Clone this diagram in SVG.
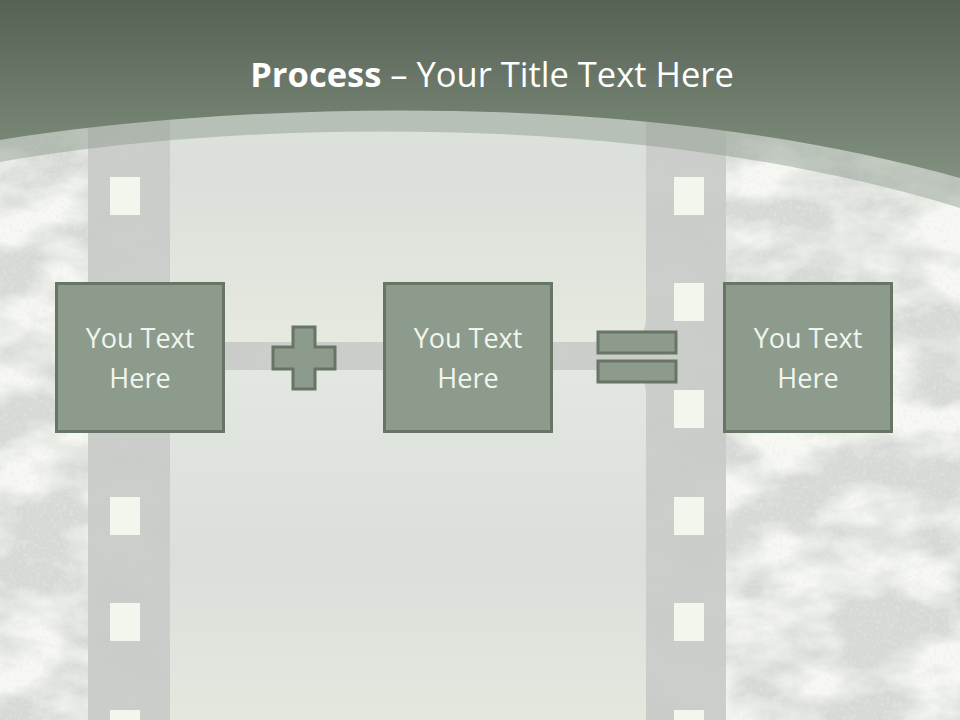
<svg xmlns="http://www.w3.org/2000/svg" width="960" height="720" viewBox="0 0 960 720">
<defs>
<style>
.box{fill:#8d9b8c;stroke:#677565;stroke-width:3}
.lbl{font-family:"Open Sans","Liberation Sans",sans-serif;font-size:27px;fill:#f2f5ee;text-anchor:middle}
.hole{fill:#f3f6ec}
.strip{fill:#c9cbc8}
</style>
<linearGradient id="hdr" x1="0" y1="0" x2="0" y2="1">
<stop offset="0" stop-color="#566254"/>
<stop offset="1" stop-color="#81907f"/>
</linearGradient>
<linearGradient id="frame" x1="0" y1="0" x2="0" y2="1">
<stop offset="0" stop-color="#e3e7e1"/>
<stop offset="0.5" stop-color="#dadfda"/>
<stop offset="1" stop-color="#e6e9df"/>
</linearGradient>
<filter id="grunge" x="0" y="0" width="100%" height="100%">
<feTurbulence type="fractalNoise" baseFrequency="0.012 0.02" numOctaves="6" seed="11" result="n"/>
<feColorMatrix in="n" type="matrix" values="0 0 0 0 0.93  0 0 0 0 0.94  0 0 0 0 0.9  3 0 0 0 -1.1" result="c"/>
<feComposite in="c" in2="SourceGraphic" operator="in"/>
</filter>
<filter id="speck" x="0" y="0" width="100%" height="100%">
<feTurbulence type="fractalNoise" baseFrequency="0.3" numOctaves="2" seed="3" result="n"/>
<feColorMatrix in="n" type="matrix" values="0 0 0 0 0.8  0 0 0 0 0.82  0 0 0 0 0.8  3 0 0 0 -1.5" result="c"/>
<feComposite in="c" in2="SourceGraphic" operator="in"/>
</filter>
</defs>
<!-- background -->
<rect x="0" y="0" width="960" height="720" fill="#d6d9d5"/>
<rect x="0" y="0" width="960" height="720" fill="#fff" filter="url(#grunge)"/>
<rect x="0" y="0" width="960" height="720" fill="#fff" filter="url(#speck)" opacity="0.5"/>
<!-- film strips and gap band -->
<rect class="strip" x="88" y="0" width="638" height="720" opacity="0.95"/>
<rect x="170" y="0" width="476" height="342" rx="22" fill="url(#frame)"/>
<rect x="170" y="370" width="476" height="380" rx="22" fill="url(#frame)"/>
<g id="holes">
<rect class="hole" x="110" y="177" width="30" height="38"/>
<rect class="hole" x="110" y="283" width="30" height="38"/>
<rect class="hole" x="110" y="390" width="30" height="38"/>
<rect class="hole" x="110" y="497" width="30" height="38"/>
<rect class="hole" x="110" y="603" width="30" height="38"/>
<rect class="hole" x="110" y="710" width="30" height="38"/>
<rect class="hole" x="674" y="177" width="30" height="38"/>
<rect class="hole" x="674" y="283" width="30" height="38"/>
<rect class="hole" x="674" y="390" width="30" height="38"/>
<rect class="hole" x="674" y="497" width="30" height="38"/>
<rect class="hole" x="674" y="603" width="30" height="38"/>
<rect class="hole" x="674" y="710" width="30" height="38"/>
</g>
<!-- header -->
<path d="M0,0 H960 V208 C650,112 250,118 0,162 Z" fill="#8a9889" opacity="0.45"/>
<path d="M0,0 H960 V178 C650,90 250,100 0,140 Z" fill="url(#hdr)"/>
<text x="492" y="87" font-family="'Open Sans','Liberation Sans',sans-serif" font-size="34.5" fill="#ffffff" text-anchor="middle"><tspan font-weight="bold">Process</tspan> – Your Title Text Here</text>
<!-- connectors / operators -->
<g id="connectors">
<path class="box" d="M293,327 H315 V347 H335 V369 H315 V389 H293 V369 H273 V347 H293 Z"/>
<rect class="box" x="598" y="332" width="78" height="21"/>
<rect class="box" x="598" y="361" width="78" height="21"/>
</g>
<g id="node1">
<rect class="box" x="56.5" y="283.5" width="167" height="148"/>
<text class="lbl" x="140" y="348">You Text</text>
<text class="lbl" x="140" y="388">Here</text>
</g>
<g id="node2">
<rect class="box" x="384.5" y="283.5" width="167" height="148"/>
<text class="lbl" x="468" y="348">You Text</text>
<text class="lbl" x="468" y="388">Here</text>
</g>
<g id="node3">
<rect class="box" x="724.5" y="283.5" width="167" height="148"/>
<text class="lbl" x="808" y="348">You Text</text>
<text class="lbl" x="808" y="388">Here</text>
</g>
</svg>
